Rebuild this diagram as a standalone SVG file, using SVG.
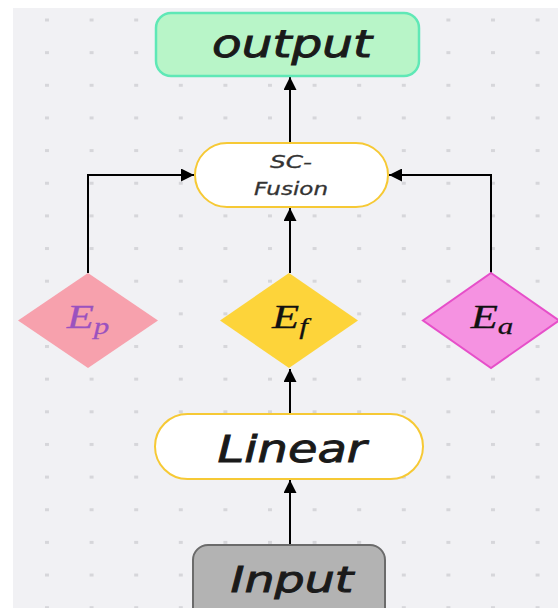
<svg xmlns="http://www.w3.org/2000/svg" width="558" height="608" viewBox="0 0 558 608">
<defs>
<pattern id="dots" patternUnits="userSpaceOnUse" x="45" y="18.5" width="44.6" height="32.65">
<rect x="0" y="0" width="4" height="3" fill="#d6d6da"/>
</pattern>
<marker id="arr" viewBox="0 0 10 10" refX="10" refY="5" markerWidth="6.5" markerHeight="6.5" markerUnits="strokeWidth" orient="auto">
<path d="M0,0 L10,5 L0,10 Z" fill="#000"/>
</marker>
<style>
.lbl{font-family:"DejaVu Sans",sans-serif;font-style:italic;fill:#1a1a1a;stroke:#1a1a1a;stroke-width:0.9;text-anchor:middle}
.small{fill:#333;stroke:#333;stroke-width:0.3}
.math{font-family:"Liberation Serif",serif;font-style:italic;text-anchor:middle;stroke-width:0.25}
.conn{fill:none;stroke:#000;stroke-width:2;marker-end:url(#arr)}
</style>
</defs>
<rect x="0" y="0" width="558" height="608" fill="#ffffff"/>
<rect x="13" y="8" width="545" height="600" fill="#f1f1f4"/>
<rect x="13" y="8" width="545" height="600" fill="url(#dots)"/>

<g id="connectors">
<path class="conn" d="M290,143 V77"/>
<path class="conn" d="M290,273 V208"/>
<path class="conn" d="M290,414 V369"/>
<path class="conn" d="M290,545 V480"/>
<path class="conn" d="M88,273 V175 H194"/>
<path class="conn" d="M491,273 V175 H389"/>
</g>

<g id="output">
<rect x="156" y="13" width="263" height="63" rx="15" fill="#b8f5c8" stroke="#5fe8b6" stroke-width="2.5"/>
<text class="lbl" x="292" y="57" font-size="37" textLength="160" lengthAdjust="spacingAndGlyphs">output</text>
</g>

<g id="scfusion">
<rect x="195" y="143" width="193" height="64" rx="32" fill="#ffffff" stroke="#f6c935" stroke-width="2"/>
<text class="lbl small" x="291" y="168" font-size="18" textLength="42" lengthAdjust="spacingAndGlyphs">SC-</text>
<text class="lbl small" x="291" y="195" font-size="18" textLength="74" lengthAdjust="spacingAndGlyphs">Fusion</text>
</g>

<g id="Ep">
<polygon points="88,273 158,320.5 88,368 18,320.5" fill="#f7a1ad"/>
<text class="math" transform="translate(88,328) scale(1.35,1)" font-size="33" fill="#9b52bf" stroke="#9b52bf">E<tspan font-size="23" dy="6">p</tspan></text>
</g>

<g id="Ef">
<polygon points="289,273 358,320.5 289,368 220,320.5" fill="#fdd43a"/>
<text class="math" transform="translate(290,328) scale(1.35,1)" font-size="33" fill="#111" stroke="#111">E<tspan font-size="23" dy="6">f</tspan></text>
</g>

<g id="Ea">
<polygon points="491,273 559,320.5 491,368 423,320.5" fill="#f592e1" stroke="#e64fc9" stroke-width="2"/>
<text class="math" transform="translate(492,328) scale(1.35,1)" font-size="33" fill="#111" stroke="#111">E<tspan font-size="23" dy="6">a</tspan></text>
</g>

<g id="linear">
<rect x="155" y="414" width="268" height="65" rx="32.5" fill="#ffffff" stroke="#f6c935" stroke-width="2"/>
<text class="lbl" x="292" y="462" font-size="38" textLength="149" lengthAdjust="spacingAndGlyphs">Linear</text>
</g>

<g id="input">
<rect x="193" y="545" width="192" height="80" rx="15" fill="#b3b3b3" stroke="#6b6b6b" stroke-width="2"/>
<text class="lbl" x="292" y="592" font-size="36" textLength="123" lengthAdjust="spacingAndGlyphs">Input</text>
</g>
</svg>
